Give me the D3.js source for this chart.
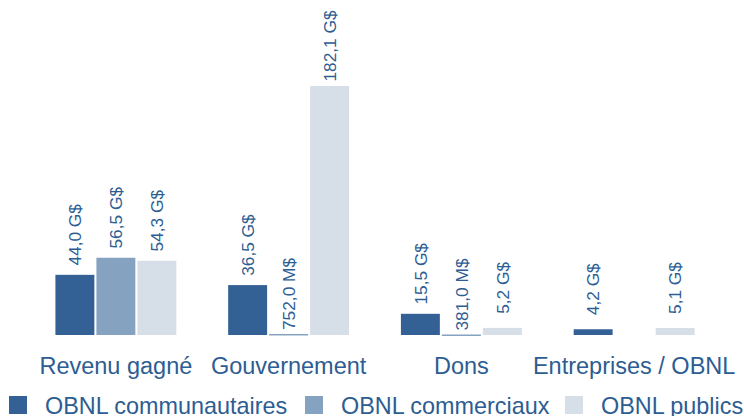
<!DOCTYPE html>
<html>
<head>
<meta charset="utf-8">
<script src="https://cdn.jsdelivr.net/npm/d3@7"></script>
<style>
  html, body { margin: 0; padding: 0; background: #ffffff; }
  svg { display: block; font-family: "Liberation Sans", Arial, Helvetica, sans-serif; }
</style>
</head>
<body>
<svg id="chart" width="744" height="416"></svg>
<script>
const categories = ["Revenu gagné", "Gouvernement", "Dons", "Entreprises / OBNL"];
const seriesNames = ["OBNL communautaires", "OBNL commerciaux", "OBNL publics"];
// values in G$
const communautaires = [44.0, 36.5, 15.5, 4.2];
const commerciaux = [56.5, 0.752, 0.381, null];
const publics = [54.3, 182.1, 5.2, 5.1];
const labelsCommunautaires = ["44,0 G$", "36,5 G$", "15,5 G$", "4,2 G$"];
const labelsCommerciaux = ["56,5 G$", "752,0 M$", "381,0 M$", null];
const labelsPublics = ["54,3 G$", "182,1 G$", "5,2 G$", "5,1 G$"];

const colors = ["#336195", "#86a2c1", "#d6dee8"];
const textColor = "#2d5d92";

const seriesValues = [communautaires, commerciaux, publics];
const seriesLabels = [labelsCommunautaires, labelsCommerciaux, labelsPublics];

const svg = d3.select("#chart");

const x0 = d3.scaleBand().domain(categories).range([29.5, 720.5]).paddingInner(0.3).paddingOuter(0.15);
const x1 = d3.scaleBand().domain(seriesNames).range([0, x0.bandwidth()]).paddingInner(0.05);
const y = d3.scaleLinear().domain([0, 182.1]).range([335, 86]);

const rows = [];
categories.forEach((c, i) => {
  seriesNames.forEach((s, j) => {
    const v = seriesValues[j][i];
    if (v !== null && v !== undefined) {
      rows.push({ cat: c, series: s, value: v, label: seriesLabels[j][i], color: colors[j] });
    }
  });
});

const g = svg.append("g");

g.selectAll("rect.bar").data(rows).enter().append("rect")
  .attr("class", "bar")
  .attr("x", d => x0(d.cat) + x1(d.series))
  .attr("width", x1.bandwidth())
  .attr("y", d => y(d.value))
  .attr("height", d => Math.max(1.5, y(0) - y(d.value)))
  .attr("fill", d => d.color);

g.selectAll("text.val").data(rows).enter().append("text")
  .attr("class", "val")
  .attr("transform", d => {
    const cx = x0(d.cat) + x1(d.series) + x1.bandwidth() / 2;
    const cy = y(d.value) - 40;
    return `translate(${cx},${cy}) rotate(-90)`;
  })
  .attr("text-anchor", "middle")
  .attr("dy", "0.36em")
  .attr("fill", textColor)
  .style("font-size", "17.3px")
  .text(d => d.label);

// category labels
svg.append("g").selectAll("text").data(categories).enter().append("text")
  .attr("x", d => x0(d) + x0.bandwidth() / 2)
  .attr("y", 374)
  .attr("text-anchor", "middle")
  .attr("fill", textColor)
  .style("font-size", "23.5px")
  .text(d => d);

// legend
const legendX = [9, 305, 565];
const legend = svg.append("g").selectAll("g").data(seriesNames).enter().append("g")
  .attr("transform", (d, i) => `translate(${legendX[i]},0)`);
legend.append("rect")
  .attr("x", 0).attr("y", 396).attr("width", 18).attr("height", 18)
  .attr("fill", (d, i) => colors[i]);
legend.append("text")
  .attr("x", 36).attr("y", 414)
  .attr("fill", textColor)
  .style("font-size", "23.4px")
  .text(d => d);
</script>
</body>
</html>
